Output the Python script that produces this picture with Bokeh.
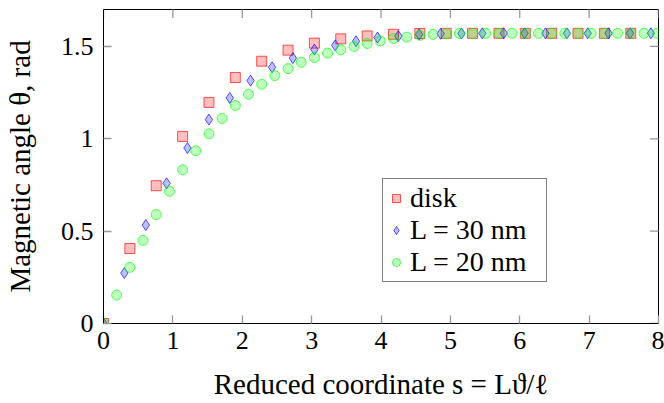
import math
from bokeh.plotting import figure
from bokeh.models import FixedTicker, Legend, LegendItem
from bokeh.embed import file_html
from bokeh.resources import INLINE

# --- data ---
disk_s = [0.0, 0.38, 0.76, 1.14, 1.52, 1.90, 2.28, 2.66, 3.04, 3.42, 3.80,
          4.18, 4.56, 4.94, 5.32, 5.70, 6.08, 6.46, 6.84, 7.22, 7.60]
disk_theta = [0.0, 0.406, 0.746, 1.013, 1.197, 1.332, 1.420, 1.480, 1.518, 1.541, 1.557,
              1.566, 1.570, 1.571, 1.571, 1.571, 1.571, 1.571, 1.571, 1.571, 1.571]

l30_s = [0.0, 0.30, 0.61, 0.91, 1.21, 1.52, 1.82, 2.12, 2.43, 2.73, 3.04, 3.34, 3.64, 3.95,
         4.25, 4.55, 4.86, 5.16, 5.46, 5.77, 6.07, 6.37, 6.68, 6.98, 7.28, 7.59, 7.89]
l30_theta = [0.0, 0.273, 0.533, 0.759, 0.950, 1.104, 1.221, 1.315, 1.387, 1.437, 1.483, 1.506,
             1.528, 1.548, 1.556, 1.565, 1.569, 1.570, 1.571, 1.571, 1.571, 1.571, 1.571,
             1.571, 1.571, 1.571, 1.571]

l20_s = [0.0, 0.19, 0.38, 0.57, 0.76, 0.95, 1.14, 1.33, 1.52, 1.71, 1.90, 2.09, 2.28, 2.47,
         2.66, 2.85, 3.04, 3.23, 3.42, 3.61, 3.80, 3.99, 4.18, 4.37, 4.56, 4.75, 4.94, 5.13,
         5.32, 5.51, 5.70, 5.89, 6.08, 6.27, 6.46, 6.65, 6.84, 7.03, 7.22, 7.41, 7.60, 7.79, 7.98]
l20_theta = [0.0, 0.154, 0.304, 0.450, 0.590, 0.716, 0.832, 0.935, 1.027, 1.110, 1.180, 1.241,
             1.295, 1.342, 1.380, 1.414, 1.440, 1.464, 1.482, 1.500, 1.516, 1.530, 1.543,
             1.550, 1.560, 1.565, 1.568, 1.570, 1.570, 1.571, 1.571, 1.571, 1.571, 1.571,
             1.571, 1.571, 1.571, 1.571, 1.571, 1.571, 1.571, 1.571, 1.571]

x_ticks = [0, 1, 2, 3, 4, 5, 6, 7, 8]
y_ticks = [0, 0.5, 1, 1.5]
y_tick_labels = ["0", "0.5", "1", "1.5"]
x_range = (0, 8)
y_range = (0, 1.7)
series_names = ["disk", "L = 30 nm", "L = 20 nm"]

FONT = "Liberation Serif"
TICK_FS = "26px"
LABEL_FS = "29px"
LEGEND_FS = "28px"
TICK_COLOR = "#999999"

p = figure(frame_width=555, frame_height=314, x_range=x_range, y_range=y_range,
           output_backend="svg", toolbar_location=None,
           min_border_left=103, min_border_right=6, min_border_top=9, min_border_bottom=80)
p.xgrid.visible = False
p.ygrid.visible = False
p.outline_line_color = "black"
p.outline_line_width = 1
p.background_fill_color = "white"
p.border_fill_color = "white"

r_disk = p.scatter(disk_s, disk_theta, marker="square", size=10,
                   fill_color="red", fill_alpha=0.25, line_color="red", line_alpha=0.65, line_width=1)
r_30 = p.scatter(l30_s, l30_theta, marker="diamond", size=11,
                 fill_color="blue", fill_alpha=0.25, line_color="blue", line_alpha=0.65, line_width=1)
r_20 = p.scatter(l20_s, l20_theta, marker="circle", size=10,
                 fill_color="lime", fill_alpha=0.25, line_color="lime", line_alpha=0.65, line_width=1)

# mirrored inward ticks on the top and right frame edges (clipped to the frame)
p.scatter(x_ticks, [y_range[1]] * len(x_ticks), marker="dash", size=17, angle=math.pi / 2,
          line_color=TICK_COLOR, line_width=1.3)
p.scatter([x_range[1]] * len(y_ticks), y_ticks, marker="dash", size=17,
          line_color=TICK_COLOR, line_width=1.3)

def style_axis(ax):
    ax.major_tick_in = 8
    ax.major_tick_out = 0
    ax.minor_tick_in = 0
    ax.minor_tick_out = 0
    ax.major_tick_line_color = TICK_COLOR
    ax.major_tick_line_width = 1.3
    ax.axis_line_color = "black"
    ax.axis_line_width = 1
    ax.major_label_text_font = FONT
    ax.major_label_text_font_size = TICK_FS
    ax.major_label_text_color = "black"
    ax.axis_label_text_font = FONT
    ax.axis_label_text_font_size = LABEL_FS
    ax.axis_label_text_font_style = "normal"
    ax.axis_label_text_color = "black"

xa = p.xaxis[0]
xa.ticker = FixedTicker(ticks=x_ticks)
xa.axis_label = "Reduced coordinate s = Lϑ/ℓ"
style_axis(xa)
xa.major_label_standoff = 8
xa.axis_label_standoff = 16

ya = p.yaxis[0]
ya.ticker = FixedTicker(ticks=y_ticks)
ya.major_label_overrides = {t: l for t, l in zip(y_ticks, y_tick_labels)}
ya.axis_label = "Magnetic angle θ, rad"
style_axis(ya)
ya.major_label_standoff = 10
ya.axis_label_standoff = 22

legend = Legend(items=[LegendItem(label=series_names[0], renderers=[r_disk]),
                       LegendItem(label=series_names[1], renderers=[r_30]),
                       LegendItem(label=series_names[2], renderers=[r_20])],
                location=(279, 41))
legend.label_text_font = FONT
legend.label_text_font_size = LEGEND_FS
legend.label_text_color = "black"
legend.border_line_color = "black"
legend.border_line_width = 1
legend.background_fill_alpha = 1
legend.padding = 3
legend.spacing = 0
legend.margin = 0
legend.glyph_width = 20
legend.glyph_height = 20
legend.label_height = 28
legend.label_width = 133
legend.label_standoff = 4
p.add_layout(legend, "center")

open("out.html", "w").write(file_html(p, INLINE))
